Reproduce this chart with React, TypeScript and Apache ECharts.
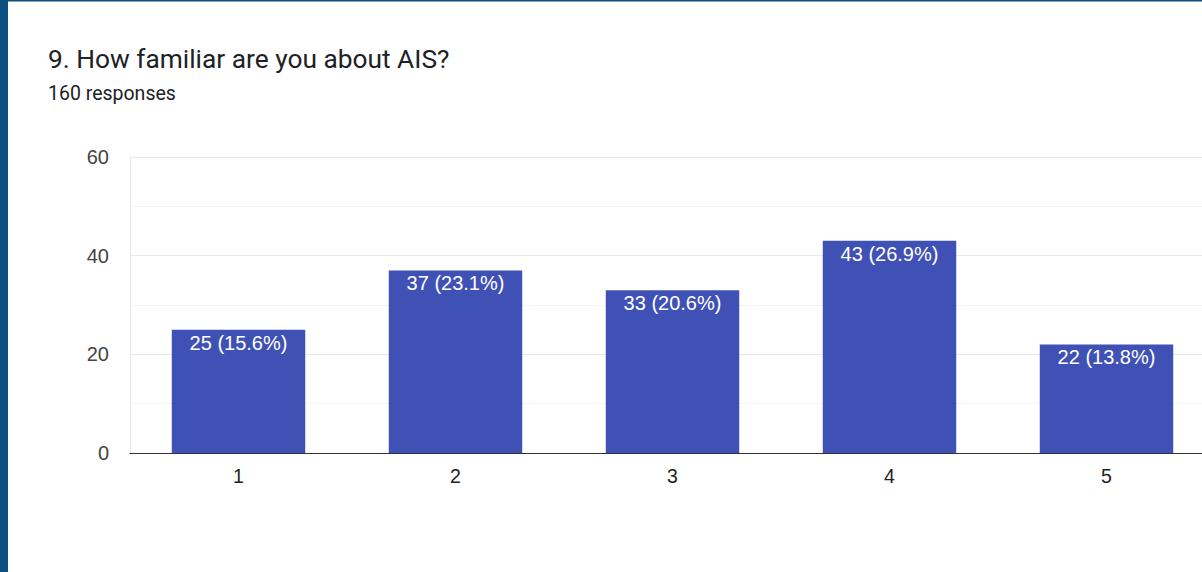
import React, { useEffect, useRef } from "react";
import * as echarts from "echarts";

const categories = ["1", "2", "3", "4", "5"];
const counts = [25, 37, 33, 43, 22];
const percents = ["15.6%", "23.1%", "20.6%", "26.9%", "13.8%"];
const yTicks = [0, 20, 40, 60];

const TITLE = "9. How familiar are you about AIS?";
const SUBTITLE = "160 responses";

export default function App() {
  const ref = useRef<HTMLDivElement>(null);
  useEffect(() => {
    if (!ref.current) return;
    const chart = echarts.init(ref.current, undefined, { renderer: "svg" });
    chart.setOption({
      animation: false,
      backgroundColor: "#ffffff",
      textStyle: { fontFamily: "Roboto" },
      graphic: [
        { type: "rect", left: 0, top: 0, shape: { width: 8, height: 572 }, style: { fill: "#0b5080" }, z: 10 },
        { type: "rect", left: 0, top: 0, shape: { width: 1215, height: 1.5 }, style: { fill: "#0b5080" }, z: 10 },
        {
          type: "text",
          left: 48,
          top: 45.5,
          style: { text: TITLE, fontFamily: "Roboto", fontSize: 26.3, fill: "#202124" },
        },
        {
          type: "text",
          left: 48,
          top: 83,
          style: { text: SUBTITLE, fontFamily: "Roboto", fontSize: 19.5, fill: "#202124" },
        },
      ],
      grid: { left: 130, right: 0, top: 157, bottom: 119, containLabel: false },
      xAxis: {
        type: "category",
        data: categories,
        axisLine: { show: true, lineStyle: { color: "#333333", width: 1.2 } },
        axisTick: { show: false },
        axisLabel: { color: "#222222", fontSize: 19.5, margin: 13, fontFamily: "Liberation Sans" },
      },
      yAxis: {
        type: "value",
        min: yTicks[0],
        max: yTicks[yTicks.length - 1],
        interval: 20,
        axisLine: { show: true, lineStyle: { color: "#e6e6e6" } },
        axisTick: { show: false },
        axisLabel: { color: "#444444", fontSize: 20, margin: 21, fontFamily: "Liberation Sans" },
        splitLine: { show: true, lineStyle: { color: "#e8e8e8", width: 1 } },
        minorTick: { show: false, splitNumber: 2 },
        minorSplitLine: { show: true, lineStyle: { color: "#f4f4f4", width: 1 } },
      },
      series: [
        {
          type: "bar",
          data: counts,
          barWidth: "61.5%",
          itemStyle: { color: "#3f51b5" },
          label: {
            show: true,
            position: "insideTop",
            distance: 3,
            color: "#ffffff",
            fontSize: 20,
            fontFamily: "Liberation Sans",
            formatter: (p: any) => `${counts[p.dataIndex]} (${percents[p.dataIndex]})`,
          },
        },
      ],
    });
    return () => chart.dispose();
  }, []);
  return (
    <div
      ref={ref}
      style={{ position: "fixed", left: 0, top: 0, width: 1215, height: 572 }}
    />
  );
}
